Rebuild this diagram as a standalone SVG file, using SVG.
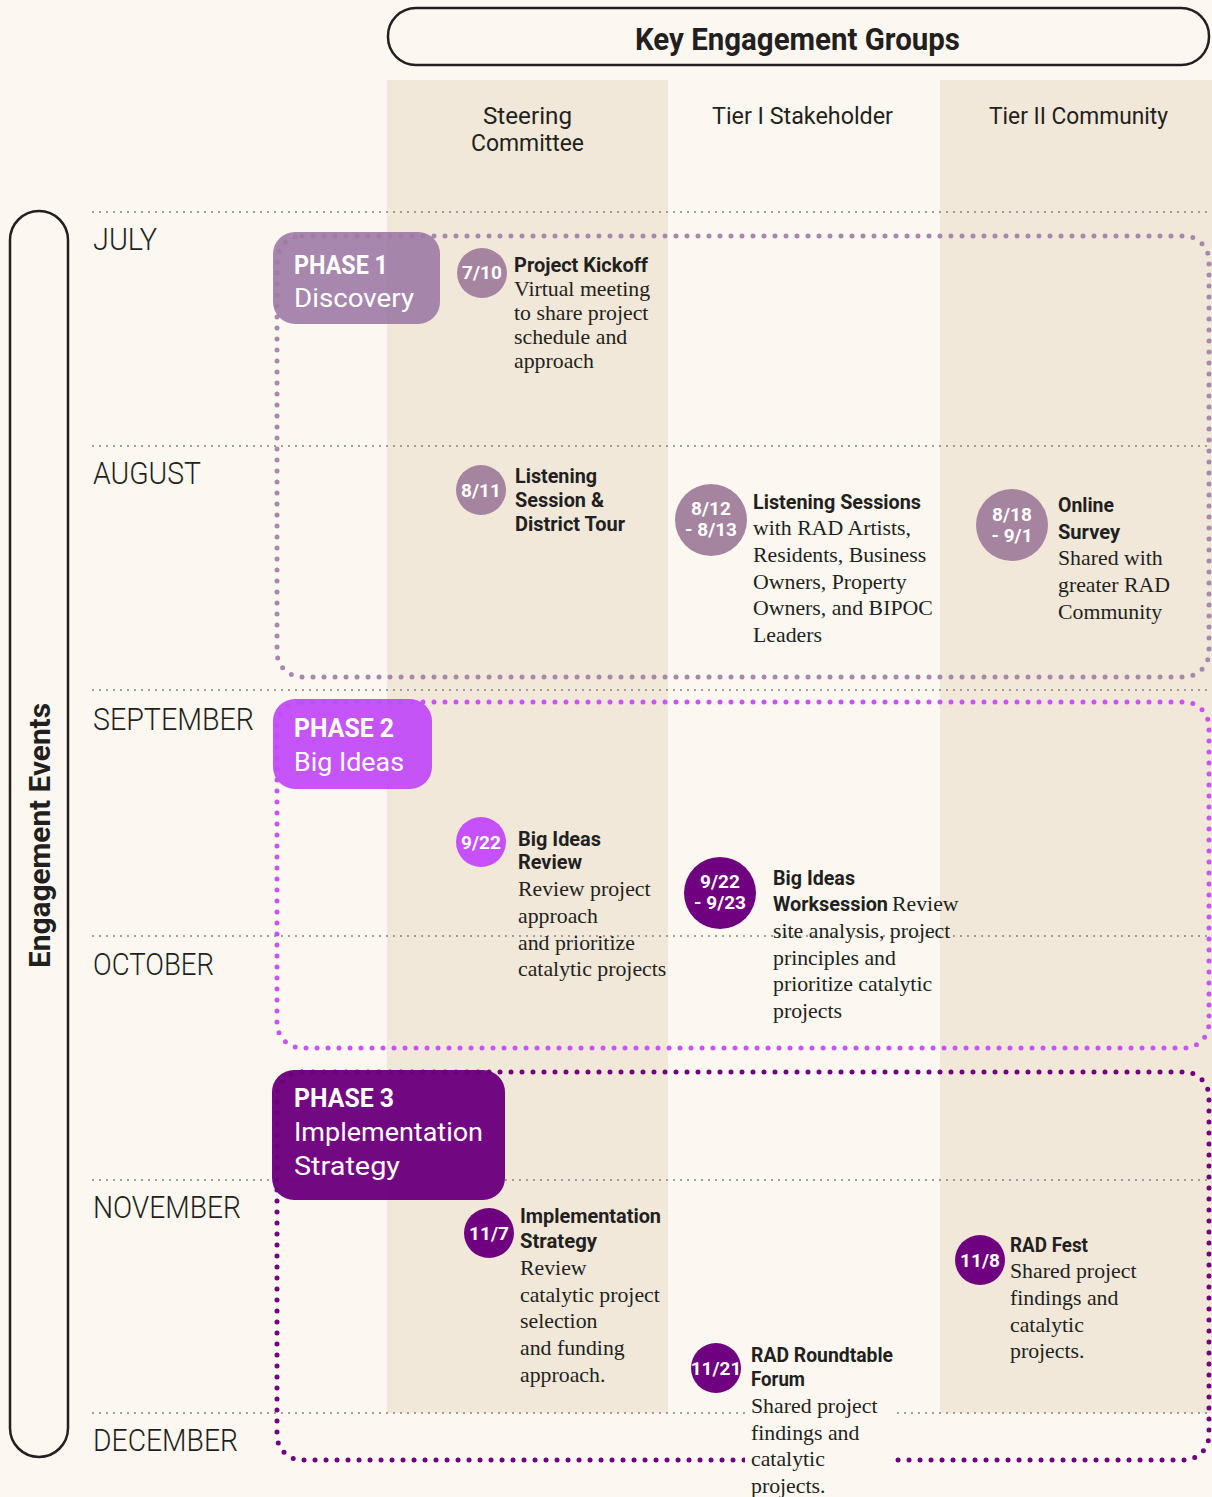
<svg xmlns="http://www.w3.org/2000/svg" width="1212" height="1497" viewBox="0 0 1212 1497">
<style>
.bg{fill:#FCF8F1}
.band{fill:#F1E8D9}
.month-line{stroke:#8C8C8C;stroke-width:2.2;stroke-dasharray:0 7;stroke-linecap:round;fill:none}
.pdot{fill:none;stroke-width:5;stroke-dasharray:0 11;stroke-linecap:round}
.hdr{font-family:Roboto,"Liberation Sans",sans-serif;font-size:23px;fill:#231F20}
.month{font-family:Roboto,"Liberation Sans",sans-serif;font-weight:300;font-size:32px;fill:#231F20}
.ptitle{font-family:Roboto,"Liberation Sans",sans-serif;font-weight:700;font-size:25px;fill:#fff}
.psub{font-family:Roboto,"Liberation Sans",sans-serif;font-size:26px;fill:#fff}
.ctext{font-family:Roboto,"Liberation Sans",sans-serif;font-weight:700;font-size:19px;fill:#fff;text-anchor:middle}
.bold{font-family:Roboto,"Liberation Sans",sans-serif;font-weight:700;font-size:20px;fill:#231F20}
.body{font-family:"Liberation Serif",serif;font-size:21.8px;fill:#231F20}
</style>
<rect class="bg" x="0" y="0" width="1212" height="1497"/>
<g id="bands">
<rect class="band" x="387" y="80" width="281" height="1333"/>
<rect class="band" x="940" y="80" width="272" height="1333"/>
</g>
<g id="header">
<rect x="388" y="8" width="821" height="57" rx="28" fill="none" stroke="#231F20" stroke-width="2.5"/>
<text x="635" y="50" font-family="Roboto,'Liberation Sans',sans-serif" font-weight="700" font-size="31" fill="#231F20" textLength="325" lengthAdjust="spacingAndGlyphs">Key Engagement Groups</text>
<text class="hdr" x="483" y="124" textLength="89" lengthAdjust="spacingAndGlyphs">Steering</text>
<text class="hdr" x="471" y="151" textLength="113" lengthAdjust="spacingAndGlyphs">Committee</text>
<text class="hdr" x="712" y="124" textLength="181" lengthAdjust="spacingAndGlyphs">Tier I Stakeholder</text>
<text class="hdr" x="989" y="124" textLength="179" lengthAdjust="spacingAndGlyphs">Tier II Community</text>
</g>
<g id="timeline">
<rect x="10" y="211" width="58" height="1246" rx="29" fill="none" stroke="#231F20" stroke-width="2.5"/>
<text transform="translate(50,968) rotate(-90)" font-family="Roboto,'Liberation Sans',sans-serif" font-weight="700" font-size="29" fill="#231F20" textLength="265" lengthAdjust="spacingAndGlyphs">Engagement Events</text>
</g>
<g id="connectors">
<line class="month-line" x1="93" y1="212" x2="1212" y2="212"/>
<line class="month-line" x1="93" y1="446" x2="1212" y2="446"/>
<line class="month-line" x1="93" y1="690" x2="1212" y2="690"/>
<line class="month-line" x1="93" y1="936" x2="1212" y2="936"/>
<line class="month-line" x1="93" y1="1180" x2="1212" y2="1180"/>
<line class="month-line" x1="93" y1="1413" x2="1212" y2="1413"/>
<rect class="pdot" x="277" y="236" width="932" height="441" rx="25" stroke="#A889AE"/>
<rect class="pdot" x="277" y="702" width="932" height="346" rx="25" stroke="#C655F8"/>
<rect class="pdot" x="277" y="1072" width="932" height="388" rx="25" stroke="#70007F"/>
</g>
<g id="months">
<text class="month" x="93" y="250" textLength="64" lengthAdjust="spacingAndGlyphs">JULY</text>
<text class="month" x="93" y="484" textLength="108" lengthAdjust="spacingAndGlyphs">AUGUST</text>
<text class="month" x="93" y="730" textLength="161" lengthAdjust="spacingAndGlyphs">SEPTEMBER</text>
<text class="month" x="93" y="975" textLength="121" lengthAdjust="spacingAndGlyphs">OCTOBER</text>
<text class="month" x="93" y="1218" textLength="148" lengthAdjust="spacingAndGlyphs">NOVEMBER</text>
<text class="month" x="93" y="1451" textLength="145" lengthAdjust="spacingAndGlyphs">DECEMBER</text>
</g>
<g id="phase1">
<rect x="273" y="232" width="167" height="92" rx="22" fill="#9D7AA5" fill-opacity="0.9"/>
<text class="ptitle" x="294" y="274" textLength="94" lengthAdjust="spacingAndGlyphs">PHASE 1</text>
<text class="psub" x="294" y="307" textLength="120" lengthAdjust="spacingAndGlyphs">Discovery</text>
</g>
<g id="phase2">
<rect x="273" y="699" width="159" height="90" rx="22" fill="#C24CF8" fill-opacity="0.95"/>
<text class="ptitle" x="294" y="737" textLength="100" lengthAdjust="spacingAndGlyphs">PHASE 2</text>
<text class="psub" x="294" y="771" textLength="110" lengthAdjust="spacingAndGlyphs">Big Ideas</text>
</g>
<g id="phase3">
<rect x="272" y="1070" width="233" height="130" rx="22" fill="#6D007E" fill-opacity="0.97"/>
<text class="ptitle" x="294" y="1107" textLength="100" lengthAdjust="spacingAndGlyphs">PHASE 3</text>
<text class="psub" x="294" y="1141" textLength="189" lengthAdjust="spacingAndGlyphs">Implementation</text>
<text class="psub" x="294" y="1175" textLength="106" lengthAdjust="spacingAndGlyphs">Strategy</text>
</g>
<g id="e-kickoff">
<circle cx="482" cy="273" r="25" fill="#A5849F"/>
<text class="ctext" x="482" y="279">7/10</text>
<text class="bold" x="514" y="272" textLength="134" lengthAdjust="spacingAndGlyphs">Project Kickoff</text>
<text class="body" x="514" y="296">Virtual meeting</text>
<text class="body" x="514" y="320">to share project</text>
<text class="body" x="514" y="344">schedule and</text>
<text class="body" x="514" y="368">approach</text>
</g>
<g id="e-listening-tour">
<circle cx="481" cy="490" r="25" fill="#A5849F"/>
<text class="ctext" x="481" y="497">8/11</text>
<text class="bold" x="515" y="483" textLength="82" lengthAdjust="spacingAndGlyphs">Listening</text>
<text class="bold" x="515" y="507" textLength="89" lengthAdjust="spacingAndGlyphs">Session &amp;</text>
<text class="bold" x="515" y="531" textLength="110" lengthAdjust="spacingAndGlyphs">District Tour</text>
</g>
<g id="e-listening-sessions">
<circle cx="711" cy="520" r="36" fill="#A5849F"/>
<text class="ctext" x="711" y="515">8/12</text>
<text class="ctext" x="711" y="536">- 8/13</text>
<text class="bold" x="753" y="509" textLength="168" lengthAdjust="spacingAndGlyphs">Listening Sessions</text>
<text class="body" x="753" y="535">with RAD Artists,</text>
<text class="body" x="753" y="562">Residents, Business</text>
<text class="body" x="753" y="589">Owners, Property</text>
<text class="body" x="753" y="615">Owners, and BIPOC</text>
<text class="body" x="753" y="642">Leaders</text>
</g>
<g id="e-survey">
<circle cx="1012" cy="525" r="36" fill="#A5849F"/>
<text class="ctext" x="1012" y="521">8/18</text>
<text class="ctext" x="1012" y="542">- 9/1</text>
<text class="bold" x="1058" y="512" textLength="56" lengthAdjust="spacingAndGlyphs">Online</text>
<text class="bold" x="1058" y="539" textLength="62" lengthAdjust="spacingAndGlyphs">Survey</text>
<text class="body" x="1058" y="565">Shared with</text>
<text class="body" x="1058" y="592">greater RAD</text>
<text class="body" x="1058" y="619">Community</text>
</g>
<g id="e-bigideas-review">
<circle cx="481" cy="842" r="25" fill="#C650FA"/>
<text class="ctext" x="481" y="849">9/22</text>
<text class="bold" x="518" y="846" textLength="83" lengthAdjust="spacingAndGlyphs">Big Ideas</text>
<text class="bold" x="518" y="869" textLength="64" lengthAdjust="spacingAndGlyphs">Review</text>
<text class="body" x="518" y="896">Review project</text>
<text class="body" x="518" y="923">approach</text>
<text class="body" x="518" y="950">and prioritize</text>
<text class="body" x="518" y="976">catalytic projects</text>
</g>
<g id="e-worksession">
<circle cx="720" cy="893" r="36" fill="#6F0080"/>
<text class="ctext" x="720" y="888">9/22</text>
<text class="ctext" x="720" y="909">- 9/23</text>
<text class="bold" x="773" y="885" textLength="82" lengthAdjust="spacingAndGlyphs">Big Ideas</text>
<text class="bold" x="773" y="911" textLength="115" lengthAdjust="spacingAndGlyphs">Worksession</text>
<text class="body" x="892" y="911">Review</text>
<text class="body" x="773" y="938">site analysis, project</text>
<text class="body" x="773" y="965">principles and</text>
<text class="body" x="773" y="991">prioritize catalytic</text>
<text class="body" x="773" y="1018">projects</text>
</g>
<g id="e-implementation">
<circle cx="489" cy="1233" r="25" fill="#6F0080"/>
<text class="ctext" x="489" y="1240">11/7</text>
<text class="bold" x="520" y="1223" textLength="141" lengthAdjust="spacingAndGlyphs">Implementation</text>
<text class="bold" x="520" y="1248" textLength="77" lengthAdjust="spacingAndGlyphs">Strategy</text>
<text class="body" x="520" y="1275">Review</text>
<text class="body" x="520" y="1302">catalytic project</text>
<text class="body" x="520" y="1328">selection</text>
<text class="body" x="520" y="1355">and funding</text>
<text class="body" x="520" y="1382">approach.</text>
</g>
<g id="e-radfest">
<circle cx="980" cy="1260" r="25" fill="#6F0080"/>
<text class="ctext" x="980" y="1267">11/8</text>
<text class="bold" x="1010" y="1252" textLength="78" lengthAdjust="spacingAndGlyphs">RAD Fest</text>
<text class="body" x="1010" y="1278">Shared project</text>
<text class="body" x="1010" y="1305">findings and</text>
<text class="body" x="1010" y="1332">catalytic</text>
<text class="body" x="1010" y="1358">projects.</text>
</g>
<g id="e-roundtable">
<rect x="745" y="1392" width="149" height="105" fill="#FCF8F1"/>
<circle cx="716" cy="1368" r="25" fill="#6F0080"/>
<text class="ctext" x="716" y="1375">11/21</text>
<text class="bold" x="751" y="1362" textLength="142" lengthAdjust="spacingAndGlyphs">RAD Roundtable</text>
<text class="bold" x="751" y="1386" textLength="54" lengthAdjust="spacingAndGlyphs">Forum</text>
<text class="body" x="751" y="1413">Shared project</text>
<text class="body" x="751" y="1440">findings and</text>
<text class="body" x="751" y="1466">catalytic</text>
<text class="body" x="751" y="1493">projects.</text>
</g>
</svg>
